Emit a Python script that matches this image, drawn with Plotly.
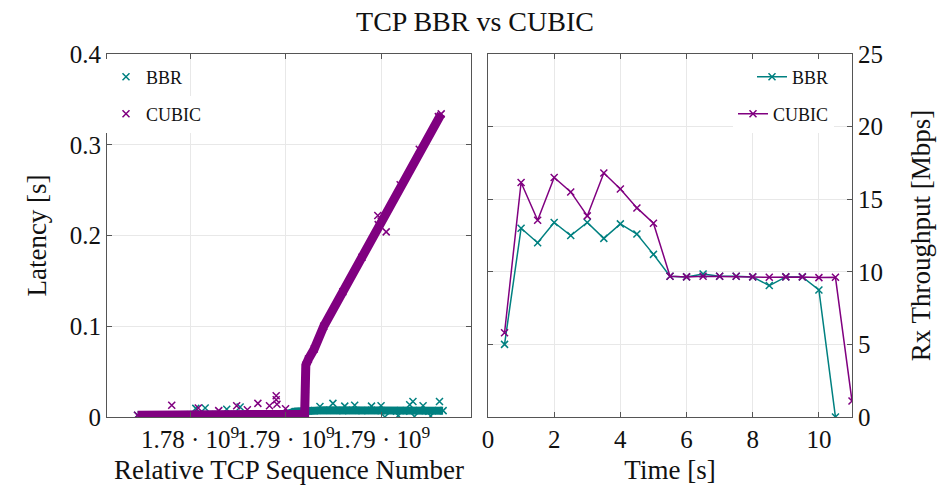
import plotly.graph_objects as go

# ---------------- data: left panel (latency vs sequence number) ----------------
# dense point cloud, read as centre-line samples of each band
bbr_seq = [1.77725e9, 1.7780e9, 1.7790e9, 1.7800e9, 1.7810e9, 1.7820e9, 1.7830e9,
           1.7840e9, 1.7850e9, 1.7855e9, 1.7860e9, 1.7865e9, 1.7870e9, 1.7875e9,
           1.7880e9, 1.7885e9, 1.7890e9, 1.7895e9, 1.7900e9, 1.7905e9, 1.7910e9,
           1.7915e9, 1.7920e9, 1.7925e9, 1.7930e9, 1.79325e9]
bbr_lat = [0.002, 0.002, 0.002, 0.0025, 0.0025, 0.0025, 0.003,
           0.003, 0.003, 0.006, 0.0075, 0.007, 0.0075, 0.0075,
           0.007, 0.0075, 0.007, 0.0075, 0.007, 0.0065, 0.007,
           0.0065, 0.007, 0.0065, 0.007, 0.007]
# scattered BBR samples outside the band centre
bbr_out_seq = [1.78030e9, 1.78079e9, 1.78192e9, 1.78262e9, 1.78748e9, 1.78862e9,
               1.78950e9, 1.79000e9, 1.79020e9, 1.79150e9, 1.79167e9, 1.79175e9,
               1.79220e9, 1.79260e9, 1.79306e9, 1.78680e9, 1.78810e9, 1.79090e9]
bbr_out_lat = [0.0095, 0.010, 0.0085, 0.011, 0.015, 0.013,
               0.012, 0.0125, 0.0, 0.0135, 0.017, 0.0005,
               0.0125, 0.001, 0.017, 0.0115, 0.012, 0.0015]

cubic_seq = [1.77725e9, 1.7780e9, 1.7790e9, 1.7800e9, 1.7810e9, 1.7820e9, 1.7830e9,
             1.7840e9, 1.7850e9, 1.7858e9, 1.78600e9, 1.78603e9, 1.78606e9, 1.7862e9,
             1.7865e9, 1.7870e9, 1.7880e9, 1.7890e9, 1.7900e9, 1.7910e9, 1.7920e9,
             1.7930e9, 1.79315e9]
cubic_lat = [0.002, 0.002, 0.0022, 0.0022, 0.0025, 0.0025, 0.0025,
             0.0025, 0.0025, 0.0025, 0.003, 0.030, 0.057, 0.064,
             0.075, 0.100, 0.138, 0.176, 0.216, 0.256, 0.295,
             0.331, 0.334]
cubic_out_seq = [1.77904e9, 1.78043e9, 1.78150e9, 1.78244e9, 1.78300e9, 1.78355e9,
                 1.78416e9, 1.78451e9, 1.78451e9, 1.78455e9, 1.78500e9,
                 1.78983e9, 1.78985e9, 1.79027e9]
cubic_out_lat = [0.013, 0.010, 0.007, 0.0125, 0.008, 0.015,
                 0.0125, 0.0235, 0.019, 0.014, 0.009,
                 0.222, 0.212, 0.204]

seq_tickvals = [1.780e9, 1.785e9, 1.790e9]
seq_ticktext = ["1.78 · 10<sup>9</sup>", "1.79 · 10<sup>9</sup>", "1.79 · 10<sup>9</sup>"]
lat_tickvals = [0, 0.1, 0.2, 0.3, 0.4]
lat_ticktext = ["0", "0.1", "0.2", "0.3", "0.4"]

# ---------------- data: right panel (throughput vs time) ----------------
bbr_time = [0.5, 1.0, 1.5, 2.0, 2.5, 3.0, 3.5, 4.0, 4.5, 5.0, 5.5,
            6.0, 6.5, 7.0, 7.5, 8.0, 8.5, 9.0, 9.5, 10.0, 10.5]
bbr_tput = [5.0, 13.0, 12.0, 13.4, 12.5, 13.4, 12.3, 13.3, 12.6, 11.2, 9.7,
            9.65, 9.85, 9.7, 9.7, 9.65, 9.05, 9.65, 9.65, 8.75, 0.0]
cubic_time = [0.5, 1.0, 1.5, 2.0, 2.5, 3.0, 3.5, 4.0, 4.5, 5.0, 5.5,
              6.0, 6.5, 7.0, 7.5, 8.0, 8.5, 9.0, 9.5, 10.0, 10.5, 11.0]
cubic_tput = [5.8, 16.15, 13.55, 16.5, 15.5, 13.85, 16.8, 15.7, 14.4, 13.35, 9.7,
              9.65, 9.7, 9.7, 9.7, 9.65, 9.62, 9.65, 9.65, 9.6, 9.62, 1.1]
time_tickvals = [0, 2, 4, 6, 8, 10]
tput_tickvals = [0, 5, 10, 15, 20, 25]

TEAL = "rgb(0,128,128)"
PURPLE = "rgb(128,0,128)"
FONT = "Times New Roman, Liberation Serif, DejaVu Serif, serif"
AXC = "#555555"
GRID = "#e8e8e8"
TXT = "#111111"

fig = go.Figure()

# left panel: BBR
fig.add_trace(go.Scatter(x=bbr_seq, y=bbr_lat, mode="lines", xaxis="x", yaxis="y",
                         line=dict(color=TEAL, width=8), showlegend=False, hoverinfo="skip"))
fig.add_trace(go.Scatter(x=bbr_seq + bbr_out_seq, y=bbr_lat + bbr_out_lat, mode="markers",
                         xaxis="x", yaxis="y", name="BBR", legend="legend",
                         marker=dict(symbol="x-thin", size=7, line=dict(color=TEAL, width=1.5))))
# left panel: CUBIC
fig.add_trace(go.Scatter(x=cubic_seq, y=cubic_lat, mode="lines", xaxis="x", yaxis="y",
                         line=dict(color=PURPLE, width=9), showlegend=False, hoverinfo="skip"))
fig.add_trace(go.Scatter(x=cubic_seq + cubic_out_seq, y=cubic_lat + cubic_out_lat, mode="markers",
                         xaxis="x", yaxis="y", name="CUBIC", legend="legend2",
                         marker=dict(symbol="x-thin", size=7, line=dict(color=PURPLE, width=1.5))))

# right panel
fig.add_trace(go.Scatter(x=bbr_time, y=bbr_tput, mode="lines+markers", xaxis="x2", yaxis="y2",
                         name="BBR", legend="legend3", line=dict(color=TEAL, width=1.5),
                         marker=dict(symbol="x-thin", size=7, line=dict(color=TEAL, width=1.5))))
fig.add_trace(go.Scatter(x=cubic_time, y=cubic_tput, mode="lines+markers", xaxis="x2", yaxis="y2",
                         name="CUBIC", legend="legend4", line=dict(color=PURPLE, width=1.5),
                         marker=dict(symbol="x-thin", size=7, line=dict(color=PURPLE, width=1.5))))

# the page body has an 8px margin, so the figure starts at (8, 8) of the window
OFF = 8
W, H = 945 - OFF, 489 - OFF
def px_x(p):
    return (p - OFF) / W
def px_y(p):
    return (H - (p - OFF)) / H

ydom = [px_y(417), px_y(54)]
axis_common = dict(showline=True, linecolor=AXC, linewidth=1, mirror="ticks",
                   ticks="inside", ticklen=5, tickcolor=AXC, showgrid=True,
                   gridcolor=GRID, gridwidth=1, zeroline=False, automargin=False,
                   tickfont=dict(family=FONT, size=25, color=TXT),
                   title_font=dict(family=FONT, size=27, color=TXT))

leg_common = dict(font=dict(family=FONT, size=18, color=TXT), bgcolor="white",
                  borderwidth=0, yanchor="middle", itemwidth=30)

fig.update_layout(
    width=W, height=H,
    margin=dict(l=0, r=0, t=0, b=0, autoexpand=False),
    paper_bgcolor="white", plot_bgcolor="white",
    font=dict(family=FONT, color=TXT),
    title=dict(text="TCP BBR vs CUBIC", x=px_x(475), xanchor="center", y=px_y(21), yanchor="middle",
               font=dict(family=FONT, size=28, color=TXT)),
    xaxis=dict(domain=[px_x(107), px_x(471)], anchor="y", range=[1.77565e9, 1.79471e9],
               tickvals=seq_tickvals, ticktext=seq_ticktext, tickangle=0,
               title=dict(text="Relative TCP Sequence Number", standoff=8), **axis_common),
    yaxis=dict(domain=ydom, anchor="x", range=[0, 0.4], tickvals=lat_tickvals,
               ticktext=lat_ticktext,
               title=dict(text="Latency [s]", standoff=15), **axis_common),
    xaxis2=dict(domain=[px_x(488), px_x(852)], anchor="y2", range=[0, 11],
                tickvals=time_tickvals, tickangle=0,
                title=dict(text="Time [s]", standoff=8), **axis_common),
    yaxis2=dict(domain=ydom, anchor="x2", side="right", range=[0, 25], tickvals=tput_tickvals,
                title=dict(text="Rx Throughput [Mbps]", standoff=29), **axis_common),
    legend=dict(x=px_x(106), y=px_y(77), xanchor="left", **leg_common),
    legend2=dict(x=px_x(106), y=px_y(114), xanchor="left", **leg_common),
    legend3=dict(x=px_x(834), y=px_y(77), xanchor="right", **leg_common),
    legend4=dict(x=px_x(834), y=px_y(114), xanchor="right", **leg_common),
)

fig.write_html("out.html")
